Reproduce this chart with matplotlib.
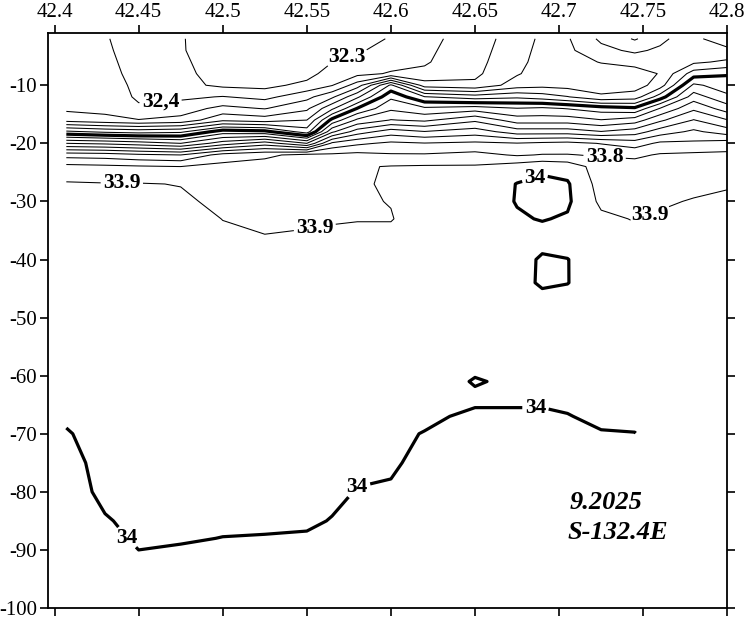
import numpy as np
import matplotlib
matplotlib.use('Agg')
import matplotlib.pyplot as plt

# station longitudes (deg E) and sample depths (m)
lon = [42.407, 42.43, 42.45, 42.475, 42.5, 42.525, 42.55, 42.565, 42.58, 42.6,
       42.62, 42.65, 42.675, 42.69, 42.705, 42.725, 42.745, 42.76, 42.78, 42.8]
depth = [-2, -4, -6, -8, -10, -12, -14, -16, -18, -20, -22, -24,
         -27, -30, -33, -36, -40, -44, -48, -55, -61, -64, -67, -70,
         -75, -80, -85, -88, -91, -95, -100]

nan = np.nan
# salinity profiles, one list per station (top to bottom)
sal = [
    [32.45, 32.45, 32.455, 32.46, 32.46, 32.47, 32.48, 32.56, 32.92, 33.30, 33.66, 33.83,
     33.91, 33.93, 33.94, 33.945, 33.95, 33.95, 33.955, 33.96, 33.97, 33.98, 33.99, 34.005,
     34.02, 34.03, 34.03, 34.035, 34.04, 34.04, 34.04],
    [32.405, 32.41, 32.415, 32.42, 32.43, 32.44, 32.47, 32.53, 32.88, 33.28, 33.65, 33.82,
     33.905, 33.925, 33.935, 33.94, 33.945, 33.95, 33.95, 33.955, 33.96, 33.965, 33.97, 33.975,
     33.98, 33.985, 34.005, 34.02, 34.03, 34.035, 34.04],
    [32.37, 32.37, 32.375, 32.38, 32.385, 32.39, 32.41, 32.505, 32.86, 33.25, 33.62, 33.81,
     33.905, 33.92, 33.93, 33.935, 33.94, 33.945, 33.95, 33.955, 33.96, 33.965, 33.97, 33.975,
     33.98, 33.98, 33.985, 33.99, 34.005, 34.02, 34.03],
    [32.305, 32.305, 32.31, 32.315, 32.33, 32.38, 32.45, 32.53, 32.88, 33.2, 33.6, 33.8,
     33.897, 33.915, 33.925, 33.93, 33.935, 33.94, 33.945, 33.95, 33.955, 33.96, 33.965, 33.97,
     33.975, 33.98, 33.985, 33.995, 34.01, 34.02, 34.03],
    [32.26, 32.265, 32.27, 32.275, 32.28, 32.405, 32.53, 32.68, 33.05, 33.35, 33.74, 33.83,
     33.86, 33.88, 33.899, 33.91, 33.93, 33.94, 33.945, 33.95, 33.96, 33.965, 33.97, 33.975,
     33.98, 33.985, 33.99, 34.001, 34.01, 34.02, 34.03],
    [32.22, 32.225, 32.23, 32.24, 32.27, 32.37, 32.495, 32.65, 33.03, 33.45, 33.78, 33.84,
     33.86, 33.875, 33.885, 33.902, 33.92, 33.935, 33.94, 33.95, 33.955, 33.96, 33.965, 33.97,
     33.975, 33.98, 33.99, 34.003, 34.01, 34.02, 34.03],
    [32.2, 32.21, 32.22, 32.26, 32.33, 32.47, 32.58, 32.7, 32.85, 33.3, 33.83, 33.87,
     33.88, 33.885, 33.893, 33.905, 33.92, 33.93, 33.94, 33.95, 33.955, 33.96, 33.965, 33.97,
     33.98, 33.985, 33.993, 34.005, 34.015, 34.02, 34.03],
    [32.22, 32.26, 32.298, 32.35, 32.395, 32.58, 32.78, 33.03, 33.28, 33.62, 33.82, 33.86,
     33.875, 33.885, 33.895, 33.91, 33.925, 33.935, 33.945, 33.955, 33.96, 33.965, 33.97, 33.975,
     33.98, 33.99, 34.002, 34.01, 34.02, 34.025, 34.03],
    [32.25, 32.29, 32.33, 32.37, 32.55, 32.78, 33.005, 33.22, 33.45, 33.68, 33.83, 33.89,
     33.89, 33.893, 33.898, 33.91, 33.925, 33.935, 33.945, 33.955, 33.965, 33.97, 33.975, 33.98,
     33.99, 34.002, 34.01, 34.015, 34.02, 34.025, 34.03],
    [32.31, 32.33, 32.36, 32.41, 32.92, 33.08, 33.18, 33.305, 33.55, 33.72, 33.81, 33.905,
     33.91, 33.902, 33.897, 33.915, 33.93, 33.94, 33.945, 33.955, 33.965, 33.975, 33.985, 33.99,
     33.995, 34.004, 34.01, 34.015, 34.02, 34.025, 34.03],
    [32.37, 32.38, 32.39, 32.42, 32.55, 32.905, 33.12, 33.28, 33.505, 33.705, 33.81, 33.91,
     33.92, 33.925, 33.93, 33.935, 33.94, 33.945, 33.95, 33.96, 33.97, 33.98, 33.99, 34.002,
     34.01, 34.015, 34.02, 34.02, 34.025, 34.03, 34.03],
    [32.45, 32.46, 32.47, 32.48, 32.52, 32.85, 33.15, 33.38, 33.55, 33.72, 33.83, 33.91,
     33.93, 33.94, 33.945, 33.95, 33.955, 33.96, 33.965, 33.97, 34.004, 33.99, 34.01, 34.015,
     34.02, 34.02, 34.025, 34.025, 34.03, 34.03, 34.03],
    [32.55, 32.56, 32.57, 32.59, 32.65, 32.88, 33.105, 33.25, 33.45, 33.705, 33.79, 33.95,
     34.003, 34.005, 33.99, 33.97, 33.97, 33.975, 33.97, 33.975, 33.99, 33.99, 34.01, 34.015,
     34.02, 34.02, 34.025, 34.025, 34.03, 34.03, 34.03],
    [32.62, 32.63, 32.64, 32.65, 32.67, 32.85, 33.12, 33.25, 33.45, 33.72, 33.805, 33.98,
     34.02, 34.02, 34.005, 33.97, 34.01, 34.01, 33.97, 33.975, 33.985, 33.992, 34.008, 34.015,
     34.02, 34.02, 34.025, 34.03, 34.03, 34.03, 34.03],
    [32.69, 32.68, 32.66, 32.65, 32.66, 32.805, 33.095, 33.25, 33.45, 33.73, 33.805, 33.96,
     34.01, 34.015, 33.99, 33.96, 34.002, 34.002, 33.965, 33.97, 33.98, 33.99, 34.002, 34.01,
     34.015, 34.02, 34.025, 34.03, 34.03, 34.03, 34.03],
    [32.82, 32.77, 32.705, 32.65, 32.64, 32.72, 33.05, 33.205, 33.405, 33.695, 33.79, 33.85,
     33.86, 33.88, 33.92, 33.94, 33.95, 33.955, 33.96, 33.965, 33.975, 33.985, 33.99, 34.003,
     34.01, 34.015, 34.02, 34.025, 34.03, 34.03, 34.03],
    [32.91, 32.82, 32.73, 32.66, 32.65, 32.75, 33.02, 33.25, 33.45, 33.65, 33.78, 33.84,
     33.86, 33.87, 33.895, 33.92, 33.94, 33.95, 33.955, 33.96, 33.97, 33.98, 33.99, 34.001,
     34.01, 34.015, 34.02, 34.025, 34.03, 34.03, 34.03],
    [32.83, 32.78, 32.72, 32.705, 32.75, 32.95, 33.205, 33.38, 33.55, 33.72, 33.81, 33.86,
     33.87, 33.89, 33.91, 33.93, 33.94, 33.95, 33.955, 33.96, 33.965, 33.97, 33.975, nan,
     nan, nan, nan, nan, nan, nan, nan],
    [32.72, 32.74, 32.78, 32.95, 33.12, 33.25, 33.38, 33.505, 33.62, 33.72, 33.82, 33.87,
     33.88, 33.905, 33.92, 33.935, 33.945, 33.95, 33.955, 33.96, 33.965, 33.97, 33.975, nan,
     nan, nan, nan, nan, nan, nan, nan],
    [32.65, 32.72, 32.82, 32.99, 33.05, 33.12, 33.25, 33.405, 33.55, 33.75, 33.82, 33.86,
     33.89, 33.92, 33.93, 33.94, 33.945, 33.95, 33.955, 33.96, 33.965, 33.97, 33.975, nan,
     nan, nan, nan, nan, nan, nan, nan],
]

# unlabelled isohalines
thin_levels = [32.5, 32.6, 32.7, 32.8, 32.9, 33.1, 33.2, 33.3,
               33.4, 33.5, 33.6, 33.7]
thick_levels = [33.0]

# labelled isohalines: level, label text, line width, label spots
labelled = [
    (32.3, '32.3', 0.75, [(42.573, -4.5)]),
    (32.4, '32,4', 0.75, [(42.463, -12.6)]),
    (33.8, '33.8', 0.75, [(42.727, -22.6)]),
    (33.9, '33.9', 0.75, [(42.440, -26.4), (42.554, -33.2), (42.757, -34.2)]),
    (34.0, '34', 2.3, [(42.6855, -25.8), (42.437, -89.3), (42.579, -78.8), (42.686, -65.8)]),
]

x_ticks = [42.4, 42.45, 42.5, 42.55, 42.6, 42.65, 42.7, 42.75, 42.8]
x_labels = ['42.4', '42.45', '42.5', '42.55', '42.6', '42.65', '42.7', '42.75', '42.8']
y_ticks = [-100, -90, -80, -70, -60, -50, -40, -30, -20, -10]

plt.rcParams['font.family'] = ['Liberation Serif', 'DejaVu Serif']
plt.rcParams['axes.unicode_minus'] = False

fig = plt.figure(figsize=(7.47, 6.21), dpi=100)
ax = fig.add_axes([0.0647, 0.0209, 0.9089, 0.926])

S = np.ma.masked_invalid(np.array(sal, dtype=float).T)
ax.contour(lon, depth, S, levels=thin_levels, colors='k', linewidths=0.75)
ax.contour(lon, depth, S, levels=thick_levels, colors='k', linewidths=2.3)

label_texts = []
for lev, txt, lw, spots in labelled:
    cs = ax.contour(lon, depth, S, levels=[lev], colors='k', linewidths=lw)
    with plt.rc_context({'font.weight': 'bold'}):
        ax.clabel(cs, manual=spots, inline=True, inline_spacing=3,
                  fmt={lev: txt}, fontsize=15.5)
    label_texts += cs.labelTexts
for t in label_texts:
    t.set_rotation(0)

ax.set_xlim(42.3963, 42.8)
ax.set_ylim(-100, -1)
ax.set_xticks(x_ticks)
ax.set_xticklabels(x_labels)
ax.set_yticks(y_ticks)
ax.tick_params(axis='x', top=True, bottom=True, labeltop=True, labelbottom=False,
               direction='out', length=6, width=1.2, labelsize=15, pad=2)
ax.tick_params(axis='y', left=True, right=True, labelleft=True, labelright=False,
               direction='out', length=6, width=1.2, labelsize=15, pad=2)
for sp in ax.spines.values():
    sp.set_linewidth(1.3)

ax.text(42.7065, -82.9, '9.2025', fontsize=19, fontweight='bold', style='italic')
ax.text(42.7053, -88.1, 'S-132.4E', fontsize=19, fontweight='bold', style='italic')

fig.savefig('out.png', dpi=100)
